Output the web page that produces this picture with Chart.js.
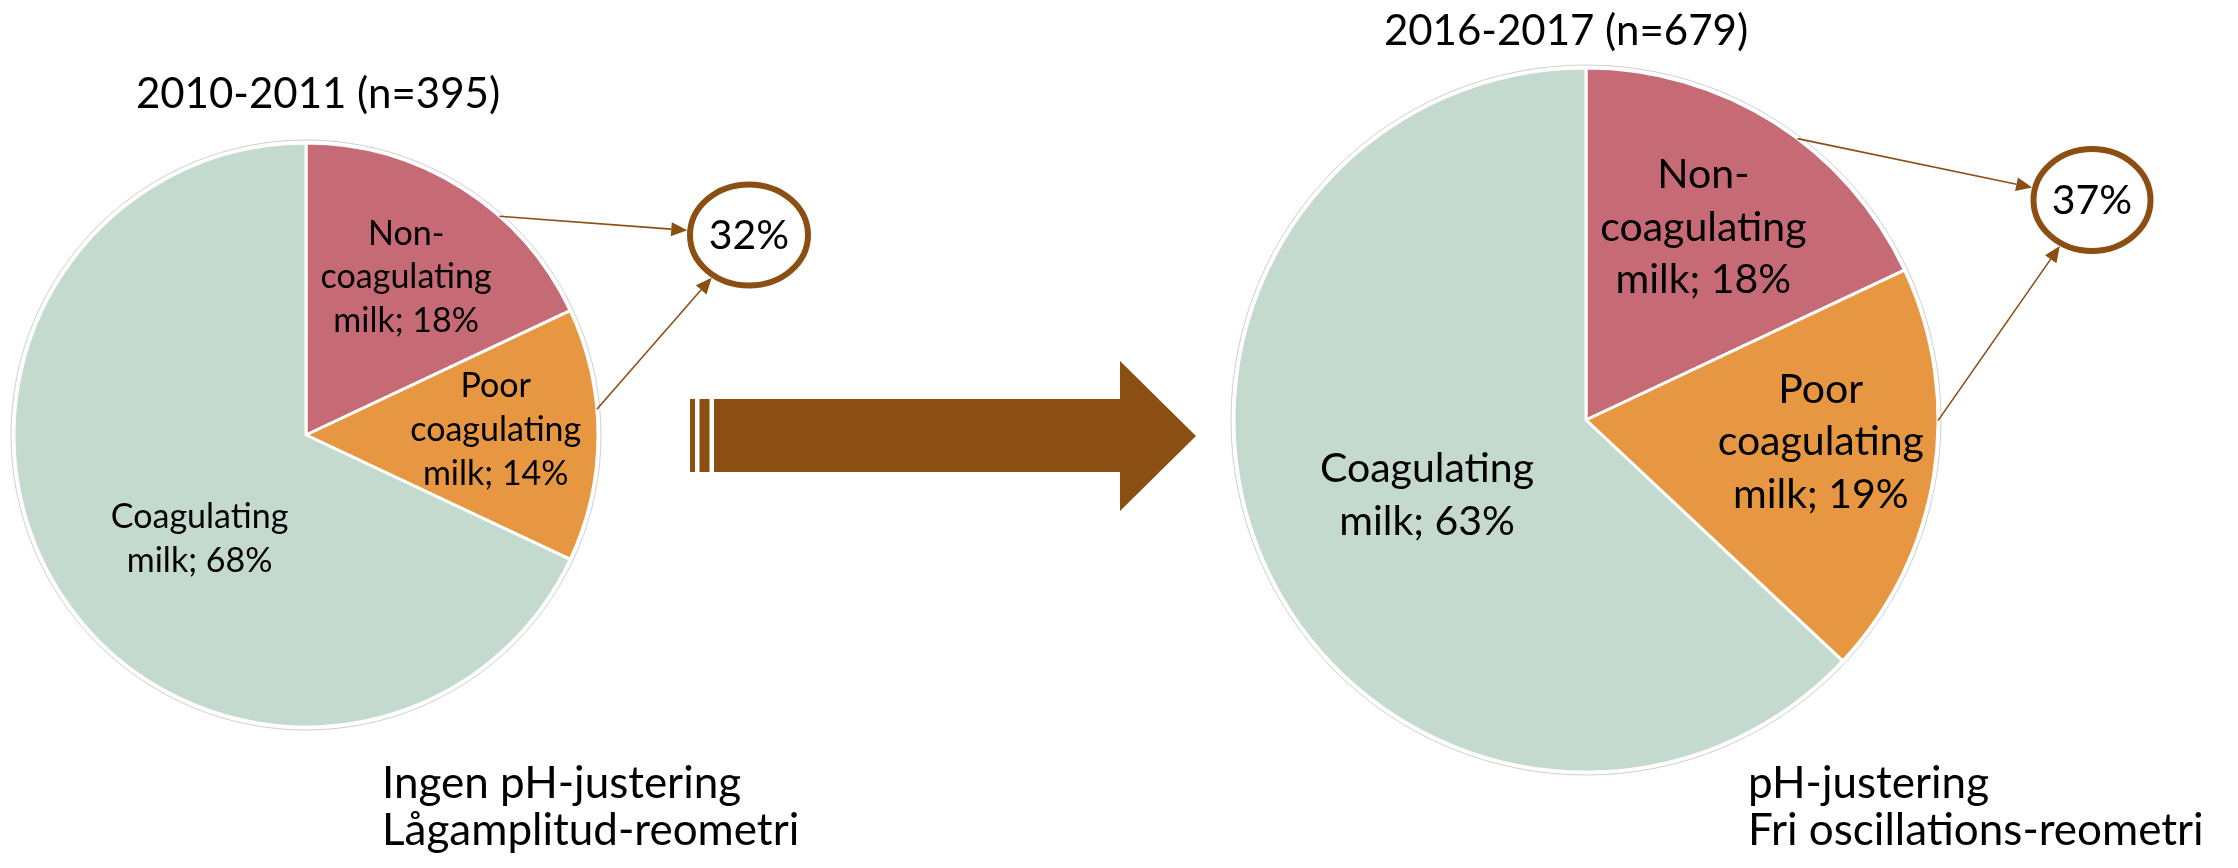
<!DOCTYPE html>
<html>
<head>
<meta charset="utf-8">
<script src="https://cdn.jsdelivr.net/npm/chart.js@4.4.1/dist/chart.umd.min.js"></script>
<style>
  body { margin: 0; background: #fff; }
  #page { position: relative; width: 2238px; height: 868px; overflow: hidden; font-family: Lato, "Open Sans", sans-serif; color: #000; }
  #page canvas, #page svg { position: absolute; left: 0; top: 0; }
  .title { position: absolute; width: 600px; text-align: center; font-size: 42px; line-height: 50px; white-space: nowrap; }
  .note { position: absolute; font-size: 44px; line-height: 47px; white-space: nowrap; }
</style>
</head>
<body>
<div id="page">
  <canvas id="pie2010" width="2238" height="868"></canvas>
  <canvas id="pie2016" width="2238" height="868"></canvas>
  <!-- block arrow between the two periods -->
  <svg width="2238" height="868">
    <rect x="690" y="399" width="5" height="73" fill="#8B4F14"/>
    <rect x="699.5" y="399" width="10" height="73" fill="#8B4F14"/>
    <polygon points="714,399 1120,399 1120,361 1196,436 1120,511 1120,472 714,472" fill="#8B4F14"/>
  </svg>
  <div class="title" id="title2010" style="left:18px; top:67px;"></div>
  <div class="title" id="title2016" style="left:1266px; top:4px;"></div>
  <div class="note" id="note2010" style="left:382px; top:758px;"></div>
  <div class="note" id="note2016" style="left:1748px; top:758px;"></div>
</div>
<script>
// coagulation classes of the milk samples (labels split the way they wrap in the slices)
const categories = [['Non-', 'coagulating', 'milk'], ['Poor', 'coagulating', 'milk'], ['Coagulating', 'milk']];
const shares2010 = [18, 14, 68];
const shares2016 = [18, 19, 63];
const titles = ['2010-2011 (n=395)', '2016-2017 (n=679)'];
const notes2010 = ['Ingen pH-justering', 'Lågamplitud-reometri'];
const notes2016 = ['pH-justering', 'Fri oscillations-reometri'];

const sliceColors = ['#C66A75', '#E79742', '#C5DACE'];
const brown = '#8B4F14';
const W = 2238, H = 868;

document.getElementById('title2010').textContent = titles[0];
document.getElementById('title2016').textContent = titles[1];
document.getElementById('note2010').innerHTML = notes2010.join('<br>');
document.getElementById('note2016').innerHTML = notes2016.join('<br>');

// text inside each slice: "name; value%"
// opts.dist = radial position (share of radius), opts.turn = degrees off the slice middle
const sliceLabels = {
  id: 'sliceLabels',
  afterDatasetsDraw(chart, args, opts) {
    const ctx = chart.ctx;
    const meta = chart.getDatasetMeta(0);
    const values = chart.data.datasets[0].data;
    const lh = opts.size * 1.28;
    ctx.save();
    ctx.font = opts.size + 'px Lato';
    ctx.fillStyle = '#000';
    ctx.textAlign = 'center';
    ctx.textBaseline = 'middle';
    meta.data.forEach((arc, i) => {
      const p = arc.getProps(['x', 'y', 'startAngle', 'endAngle', 'outerRadius'], true);
      const mid = (p.startAngle + p.endAngle) / 2 + opts.turn[i] * Math.PI / 180;
      const dist = p.outerRadius * opts.dist[i];
      const cx = p.x + Math.cos(mid) * dist;
      const cy = p.y + Math.sin(mid) * dist;
      const lines = chart.data.labels[i].slice();
      lines[lines.length - 1] += '; ' + values[i] + '%';
      lines.forEach((t, k) => ctx.fillText(t, cx, cy + (k - (lines.length - 1) / 2) * lh));
    });
    ctx.restore();
  }
};

// faint rim round the pie, plus the circled total of the two weak classes with arrows
const callout = {
  id: 'callout',
  afterDraw(chart, args, opts) {
    const ctx = chart.ctx;
    const meta = chart.getDatasetMeta(0);
    const values = chart.data.datasets[0].data;
    const c = meta.data[0].getProps(['x', 'y', 'outerRadius'], true);
    ctx.save();
    ctx.strokeStyle = '#cfcfcf';
    ctx.lineWidth = 1;
    ctx.beginPath();
    ctx.arc(c.x, c.y, c.outerRadius + 3, 0, Math.PI * 2);
    ctx.stroke();

    const ex = c.x + opts.dx, ey = c.y + opts.dy;
    ctx.strokeStyle = brown;
    ctx.fillStyle = brown;
    opts.from.forEach((f, i) => {
      const p = meta.data[i].getProps(['x', 'y', 'startAngle', 'endAngle', 'outerRadius'], true);
      const a = p.startAngle + f * (p.endAngle - p.startAngle);
      const sx = p.x + Math.cos(a) * p.outerRadius;
      const sy = p.y + Math.sin(a) * p.outerRadius;
      const vx = sx - ex, vy = sy - ey;
      const s = 1 / Math.sqrt(Math.pow(vx / (opts.rx + 3), 2) + Math.pow(vy / (opts.ry + 3), 2));
      const tx = ex + vx * s, ty = ey + vy * s;
      const ang = Math.atan2(ty - sy, tx - sx);
      const head = 16, half = 7;
      const bx = tx - Math.cos(ang) * head, by = ty - Math.sin(ang) * head;
      ctx.lineWidth = 1.6;
      ctx.beginPath();
      ctx.moveTo(sx, sy);
      ctx.lineTo(bx, by);
      ctx.stroke();
      ctx.beginPath();
      ctx.moveTo(tx, ty);
      ctx.lineTo(bx + Math.sin(ang) * half, by - Math.cos(ang) * half);
      ctx.lineTo(bx - Math.sin(ang) * half, by + Math.cos(ang) * half);
      ctx.closePath();
      ctx.fill();
    });

    ctx.lineWidth = 6;
    ctx.beginPath();
    ctx.ellipse(ex, ey, opts.rx, opts.ry, 0, 0, Math.PI * 2);
    ctx.stroke();
    ctx.fillStyle = '#000';
    ctx.font = '41px Lato';
    ctx.textAlign = 'center';
    ctx.textBaseline = 'middle';
    ctx.fillText((values[0] + values[1]) + '%', ex, ey + 1);
    ctx.restore();
  }
};

function makePie(id, values, cx, cy, radius, labelOpts, calloutOpts) {
  const padX = cx < W / 2 ? {left: 0, right: W - 2 * cx} : {left: 2 * cx - W, right: 0};
  const padY = cy < H / 2 ? {top: 0, bottom: H - 2 * cy} : {top: 2 * cy - H, bottom: 0};
  return new Chart(document.getElementById(id), {
    type: 'pie',
    data: {
      labels: categories,
      datasets: [{
        data: values,
        backgroundColor: sliceColors,
        borderColor: '#ffffff',
        borderWidth: 3
      }]
    },
    options: {
      responsive: false,
      animation: false,
      radius: radius,
      layout: { padding: Object.assign({}, padX, padY) },
      events: [],
      plugins: {
        legend: { display: false },
        tooltip: { enabled: false },
        sliceLabels: labelOpts,
        callout: calloutOpts
      }
    },
    plugins: [sliceLabels, callout]
  });
}

makePie('pie2010', shares2010, 306, 435, 292,
  { size: 34, dist: [0.64, 0.65, 0.51], turn: [0, -1.5, -12] },
  { dx: 443, dy: -200, rx: 59, ry: 50.5, from: [0.64, 0.4] });
makePie('pie2016', shares2016, 1586, 420, 352,
  { size: 41, dist: [0.64, 0.67, 0.5], turn: [-1, -3.6, -2] },
  { dx: 506, dy: -220, rx: 58.5, ry: 51, from: [0.57, 0.37] });
</script>
</body>
</html>
